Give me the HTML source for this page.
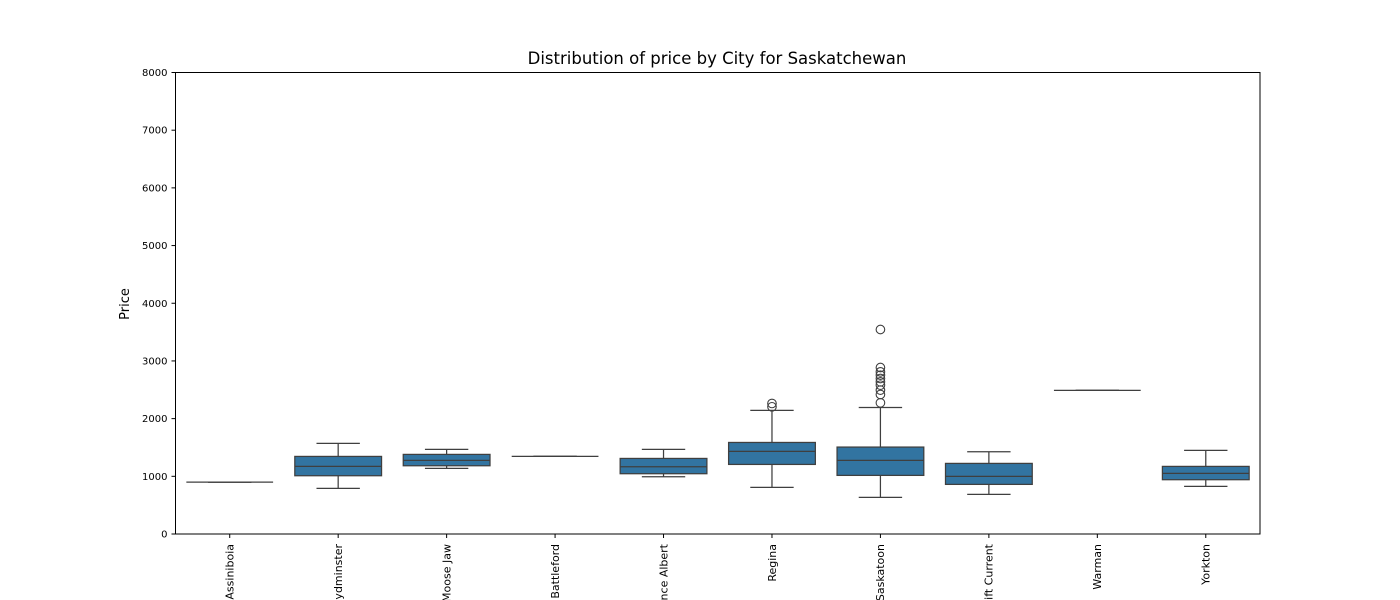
<!DOCTYPE html>
<html><head><meta charset="utf-8"><style>
html,body{margin:0;padding:0;background:#fff;width:1400px;height:600px;overflow:hidden;}
svg{display:block;font-family:"DejaVu Sans","Liberation Sans",sans-serif;overflow:hidden;}
</style></head><body>
<svg id="chart" width="1400" height="600" viewBox="0 0 1400 600">
<text x="717" y="64" text-anchor="middle" font-size="16.5" fill="#000">Distribution of price by City for Saskatchewan</text>
<text transform="translate(129,304) rotate(-90)" text-anchor="middle" font-size="13" fill="#000">Price</text>
<g id="plot"></g>
<rect x="175.5" y="72.5" width="1084.5" height="461.5" fill="none" stroke="#000" stroke-width="1"/>
</svg>
<script>
const cities = ["Assiniboia","Lloydminster","Moose Jaw","North Battleford","Prince Albert","Regina","Saskatoon","Swift Current","Warman","Yorkton"];
const whiskerLow = [900,791,1137,1345,993,808,635,687,2490,826];
const q1 = [900,1010,1183,1345,1045,1206,1016,860,2490,941];
const medians = [900,1172,1276,1345,1166,1432,1276,999,2490,1051];
const q3 = [900,1345,1380,1345,1310,1587,1507,1224,2490,1172];
const whiskerHigh = [900,1570,1466,1345,1466,2142,2193,1426,2490,1449];
const outliers = [[],[],[],[],[],[2263,2205],[3545,2886,2811,2753,2696,2638,2580,2494,2419,2274],[],[],[]];
const yTicks = [0,1000,2000,3000,4000,5000,6000,7000,8000];

const X0=175.5,X1=1260,Y0=534,Y1=72.5,YMAX=8000;
const ns="http://www.w3.org/2000/svg";
const g=document.getElementById('plot');
const band=(X1-X0)/cities.length;
function xs(i){return X0+band*(i+0.5);}
function ys(v){return Y0-(v/YMAX)*(Y0-Y1);}
function mk(t,a,p){const e=document.createElementNS(ns,t);for(const k in a)e.setAttribute(k,a[k]);(p||g).appendChild(e);return e;}

yTicks.forEach(v=>{
  const y=ys(v);
  const t=mk('line',{x1:X0-4,x2:X0,y1:y,y2:y,stroke:'#000','stroke-width':1});
  
  
  const l=mk('text',{x:X0-8,y:y+3.5,'text-anchor':'end','font-size':10,fill:'#000'});
  l.textContent=v;
  
  
});

const bw=band*0.8, cw=bw/2, ec='#3f3f3f';
cities.forEach((c,i)=>{
  const cx=xs(i);
  const t=mk('line',{x1:cx,x2:cx,y1:Y0,y2:Y0+4,stroke:'#000','stroke-width':1});
  
  
  const l=mk('text',{transform:`translate(${cx+3.8},544) rotate(-90)`,'text-anchor':'end','font-size':11,fill:'#000'});
  l.textContent=c;
  
  
  const grp=mk('g',{});
  
  
  mk('line',{x1:cx,x2:cx,y1:ys(whiskerLow[i]),y2:ys(q1[i]),stroke:ec,'stroke-width':1.25},grp);
  mk('line',{x1:cx,x2:cx,y1:ys(q3[i]),y2:ys(whiskerHigh[i]),stroke:ec,'stroke-width':1.25},grp);
  mk('line',{x1:cx-cw/2,x2:cx+cw/2,y1:ys(whiskerLow[i]),y2:ys(whiskerLow[i]),stroke:ec,'stroke-width':1.25},grp);
  mk('line',{x1:cx-cw/2,x2:cx+cw/2,y1:ys(whiskerHigh[i]),y2:ys(whiskerHigh[i]),stroke:ec,'stroke-width':1.25},grp);
  mk('rect',{x:cx-bw/2,y:ys(q3[i]),width:bw,height:Math.max(0,ys(q1[i])-ys(q3[i])),fill:'#3274a1',stroke:ec,'stroke-width':1.25},grp);
  mk('line',{x1:cx-bw/2,x2:cx+bw/2,y1:ys(medians[i]),y2:ys(medians[i]),stroke:ec,'stroke-width':1.25},grp);
  outliers[i].forEach(v=>{
    const o=mk('circle',{cx:cx,cy:ys(v),r:4.3,fill:'none',stroke:ec,'stroke-width':1.1},grp);
    
    
  });
});
</script>
</body></html>
